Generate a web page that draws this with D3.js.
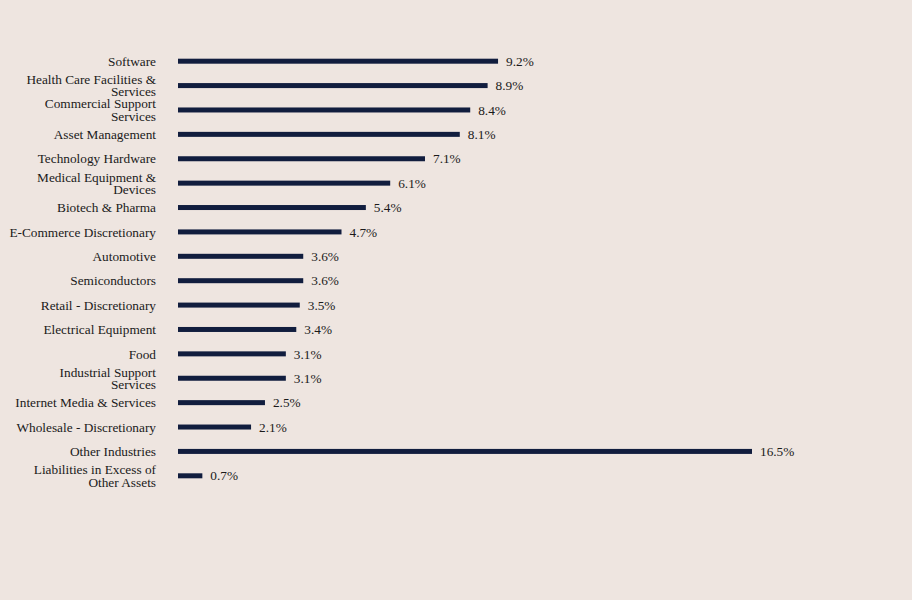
<!DOCTYPE html>
<html>
<head>
<meta charset="utf-8">
<script src="https://cdn.jsdelivr.net/npm/d3@7"></script>
<style>
  body { margin: 0; background: #EEE5E0; }
  svg { display: block; font-family: "Liberation Serif", "Times New Roman", serif; }
</style>
</head>
<body>
<div id="chart"></div>
<script>
// Industry names and weights (% of net assets)
var industries = [
	"Software",
	"Health Care Facilities & Services",
	"Commercial Support Services",
	"Asset Management",
	"Technology Hardware",
	"Medical Equipment & Devices",
	"Biotech & Pharma",
	"E-Commerce Discretionary",
	"Automotive",
	"Semiconductors",
	"Retail - Discretionary",
	"Electrical Equipment",
	"Food",
	"Industrial Support Services",
	"Internet Media & Services",
	"Wholesale - Discretionary",
	"Other Industries",
	"Liabilities in Excess of Other Assets"
];
var weights = [9.2, 8.9, 8.4, 8.1, 7.1, 6.1, 5.4, 4.7, 3.6, 3.6, 3.5, 3.4, 3.1, 3.1, 2.5, 2.1, 16.5, 0.7];

var width = 912,
	height = 600;
var margin = { top: 49, left: 178, bottom: 112 };
var barHeight = 5;
var maxChars = 25; // labels wrap past this many characters

var data = industries.map(function(name, i) { return { name: name, value: weights[i] }; });

var svg = d3.select("#chart").append("svg")
	.attr("width", width)
	.attr("height", height);

svg.append("rect")
	.attr("width", width)
	.attr("height", height)
	.attr("fill", "#EEE5E0");

// Scales
var x = d3.scaleLinear()
	.domain([0, 16.5])
	.range([margin.left, 752]);

var y = d3.scaleBand()
	.domain(industries)
	.range([margin.top, height - margin.bottom]);

var rows = svg.append("g")
	.selectAll("g")
	.data(data)
	.enter().append("g")
		.attr("transform", function(d) { return "translate(0," + (y(d.name) + y.bandwidth() / 2) + ")"; });

// Bars
rows.append("rect")
	.attr("x", x(0))
	.attr("y", -barHeight / 2)
	.attr("width", function(d) { return x(d.value) - x(0); })
	.attr("height", barHeight)
	.attr("fill", "#111D3E");

// Value labels
rows.append("text")
	.attr("x", function(d) { return x(d.value) + 8; })
	.attr("dy", "0.35em")
	.attr("font-size", 13.3)
	.attr("fill", "#1a1a1a")
	.text(function(d) { return d.value.toFixed(1) + "%"; });

// Category labels, wrapped by character count
rows.append("text")
	.attr("x", 156)
	.attr("text-anchor", "end")
	.attr("font-size", 13.3)
	.attr("fill", "#1a1a1a")
	.each(function(d) {
		var text = d3.select(this);
		var lines = [];
		var line = "";
		d.name.split(" ").forEach(function(w) {
			var next = line ? line + " " + w : w;
			if (next.length > maxChars && line) {
				lines.push(line);
				line = w;
			} else {
				line = next;
			}
		});
		lines.push(line);
		var lineHeight = 12.5;
		var start = -(lines.length - 1) * lineHeight / 2;
		lines.forEach(function(l, i) {
			text.append("tspan")
				.attr("x", 156)
				.attr("y", start + i * lineHeight)
				.attr("dy", "0.35em")
				.text(l);
		});
	});
</script>
</body>
</html>
